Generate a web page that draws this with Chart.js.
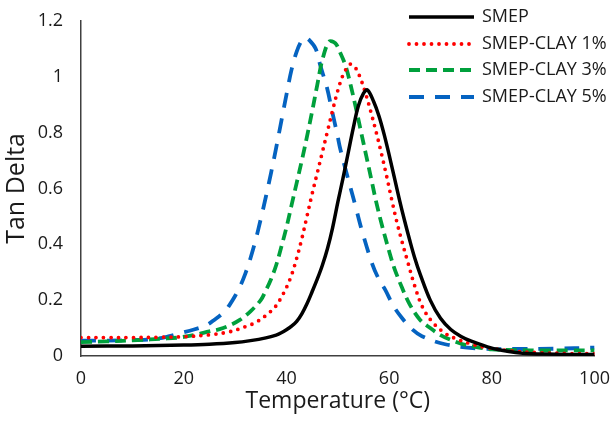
<!DOCTYPE html>
<html>
<head>
<meta charset="utf-8">
<script src="https://cdn.jsdelivr.net/npm/chart.js@4"></script>
<style>
html,body{margin:0;padding:0;background:#fff;}
#wrap{width:614px;height:422px;}
</style>
</head>
<body>
<div id="wrap"><canvas id="c" width="614" height="422"></canvas></div>
<script>
// Series labels
const seriesNames = ['SMEP', 'SMEP-CLAY 1%', 'SMEP-CLAY 3%', 'SMEP-CLAY 5%'];

// SMEP (black)
const tempSMEP = [0, 10, 20, 25, 30, 33, 36, 38, 39, 40, 41, 42, 43, 44, 45, 46, 47, 48, 49, 50, 51, 52, 53, 54, 55, 55.8, 57, 58, 59, 60, 61, 62, 63, 64, 65, 66, 68, 70, 72, 74, 76, 80, 83, 86, 90, 100];
const tanSMEP  = [0.035, 0.036, 0.039, 0.042, 0.048, 0.055, 0.065, 0.075, 0.083, 0.094, 0.107, 0.124, 0.151, 0.187, 0.23, 0.275, 0.325, 0.385, 0.46, 0.55, 0.635, 0.725, 0.815, 0.895, 0.94, 0.952, 0.91, 0.86, 0.795, 0.72, 0.64, 0.56, 0.485, 0.415, 0.35, 0.295, 0.2, 0.135, 0.095, 0.07, 0.053, 0.028, 0.017, 0.01, 0.007, 0.005];

// SMEP-CLAY 1% (red)
const tempClay1 = [0, 5, 10, 15, 20, 25, 29, 32, 34, 36, 38, 39, 40, 41, 42, 43, 44, 45, 46, 47, 48, 49, 50, 51, 52, 52.5, 53.5, 54.5, 55.5, 56.5, 57.5, 58.5, 59.5, 60.5, 61.5, 62.5, 63.5, 65, 66.5, 68.5, 71, 73, 76, 79, 84, 89, 95, 100];
const tanClay1  = [0.066, 0.066, 0.066, 0.067, 0.069, 0.076, 0.087, 0.105, 0.12, 0.145, 0.18, 0.21, 0.245, 0.29, 0.35, 0.42, 0.5, 0.58, 0.655, 0.73, 0.805, 0.88, 0.95, 1.005, 1.038, 1.045, 1.03, 0.99, 0.935, 0.87, 0.8, 0.725, 0.645, 0.56, 0.48, 0.41, 0.345, 0.25, 0.175, 0.12, 0.08, 0.062, 0.043, 0.03, 0.018, 0.012, 0.009, 0.008];

// SMEP-CLAY 3% (green)
const tempClay3 = [0, 5, 11, 16, 19, 22, 25, 27, 29, 31, 33, 35, 36, 37, 38, 39, 40, 41, 42, 43, 44, 45, 46, 47, 48.3, 49.5, 50.5, 51.5, 52.5, 53.5, 54.5, 55.5, 56.5, 57.5, 58.5, 60, 61, 62.5, 64, 66, 68, 70, 72, 74.2, 77, 80, 85, 90, 95, 100];
const tanClay3  = [0.05, 0.052, 0.057, 0.062, 0.066, 0.075, 0.088, 0.096, 0.11, 0.13, 0.16, 0.2, 0.235, 0.275, 0.325, 0.39, 0.46, 0.54, 0.62, 0.7, 0.785, 0.875, 0.97, 1.06, 1.125, 1.12, 1.085, 1.04, 0.97, 0.89, 0.805, 0.72, 0.635, 0.55, 0.475, 0.375, 0.315, 0.245, 0.185, 0.13, 0.1, 0.075, 0.058, 0.043, 0.032, 0.024, 0.021, 0.02, 0.02, 0.02];

// SMEP-CLAY 5% (blue)
const tempClay5 = [0, 5, 10, 14, 17, 19, 22, 24.4, 26, 28, 29, 30, 31, 32, 33, 34, 35, 36, 37, 38, 39, 40, 41, 42, 43, 43.6, 44.5, 45.7, 46.6, 47.9, 48.9, 49.9, 50.5, 51.7, 53.4, 54.7, 56.7, 58, 59.3, 60.8, 62.5, 64.5, 66.4, 70.9, 77.4, 85, 92, 100];
const tanClay5  = [0.055, 0.055, 0.057, 0.06, 0.07, 0.08, 0.095, 0.11, 0.13, 0.16, 0.185, 0.215, 0.25, 0.295, 0.35, 0.415, 0.49, 0.57, 0.655, 0.745, 0.84, 0.935, 1.025, 1.09, 1.13, 1.14, 1.13, 1.1, 1.04, 0.96, 0.876, 0.793, 0.74, 0.655, 0.54, 0.449, 0.33, 0.275, 0.235, 0.18, 0.136, 0.095, 0.071, 0.042, 0.027, 0.025, 0.026, 0.03];

// Axis ticks
const xTicks = [0, 20, 40, 60, 80, 100];
const yTicks = [0, 0.2, 0.4, 0.6, 0.8, 1, 1.2];

const pts = (xs, ys) => xs.map((x, i) => ({x: x, y: ys[i]}));

const FONT = '"Open Sans", "Liberation Sans", sans-serif';

const legendPlugin = {
  id: 'customLegend',
  afterDraw(chart) {
    const ctx = chart.ctx;
    const x0 = 409, x1 = 474, tx = 482;
    const rows = [17, 44, 70, 97];
    chart.data.datasets.forEach((ds, i) => {
      const y = rows[i];
      ctx.save();
      ctx.strokeStyle = ds.borderColor;
      ctx.lineWidth = ds.borderWidth;
      ctx.lineCap = ds.borderCapStyle || 'butt';
      ctx.setLineDash(ds.borderDash || []);
      ctx.beginPath();
      ctx.moveTo(x0, y);
      ctx.lineTo(x1, y);
      ctx.stroke();
      ctx.restore();
      ctx.save();
      ctx.fillStyle = '#1a1a1a';
      ctx.font = '18px ' + FONT;
      ctx.textBaseline = 'middle';
      ctx.textAlign = 'left';
      ctx.fillText(ds.label, tx, y);
      ctx.restore();
    });
  }
};

new Chart(document.getElementById('c'), {
  type: 'line',
  data: {
    datasets: [
      {label: seriesNames[0], data: pts(tempSMEP, tanSMEP), borderColor: '#000000', borderWidth: 3.5, borderDash: [], borderCapStyle: 'butt'},
      {label: seriesNames[1], data: pts(tempClay1, tanClay1), borderColor: '#ff0000', borderWidth: 3.8, borderDash: [0, 7.5], borderCapStyle: 'round'},
      {label: seriesNames[2], data: pts(tempClay3, tanClay3), borderColor: '#00a03c', borderWidth: 3.8, borderDash: [11, 6], borderCapStyle: 'butt'},
      {label: seriesNames[3], data: pts(tempClay5, tanClay5), borderColor: '#0563c1', borderWidth: 3.8, borderDash: [15, 11], borderCapStyle: 'butt'}
    ]
  },
  options: {
    responsive: false,
    animation: false,
    devicePixelRatio: 1,
    layout: {padding: {top: 19, right: 17, left: 0, bottom: 0}},
    elements: {point: {radius: 0}, line: {tension: 0.35, cubicInterpolationMode: 'default', fill: false}},
    plugins: {legend: {display: false}, tooltip: {enabled: false}},
    scales: {
      x: {
        type: 'linear', min: 0, max: 100,
        afterBuildTicks(scale) { scale.ticks = xTicks.map(v => ({value: v})); },
        afterFit(scale) { scale.height = 66; },
        grid: {display: false},
        border: {display: true, color: '#404040', width: 1.5},
        ticks: {color: '#1a1a1a', font: {family: FONT, size: 18}, padding: 4, maxRotation: 0},
        title: {display: true, text: 'Temperature (°C)', color: '#1a1a1a', font: {family: FONT, size: 23}, padding: {top: 0, bottom: 7}}
      },
      y: {
        type: 'linear', min: 0, max: 1.2,
        afterBuildTicks(scale) { scale.ticks = yTicks.map(v => ({value: v})); },
        afterFit(scale) { scale.width = 81; },
        grid: {display: false},
        border: {display: true, color: '#404040', width: 1.5},
        ticks: {color: '#1a1a1a', font: {family: FONT, size: 18}, padding: 10, callback: (v) => String(v)},
        title: {display: true, text: 'Tan Delta', color: '#1a1a1a', font: {family: FONT, size: 25}, padding: {top: 2, bottom: 0}}
      }
    }
  },
  plugins: [legendPlugin]
});
</script>
</body>
</html>
